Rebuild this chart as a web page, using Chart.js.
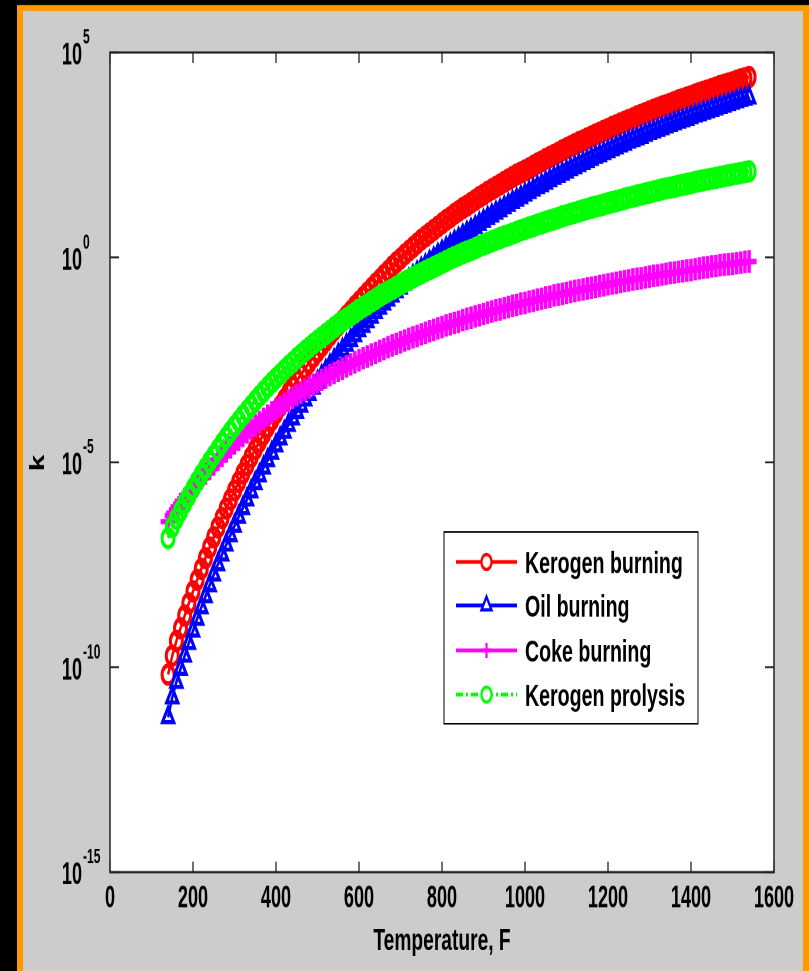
<!DOCTYPE html>
<html>
<head>
<meta charset="utf-8">
<script src="https://cdn.jsdelivr.net/npm/chart.js@4.4.1/dist/chart.umd.min.js"></script>
<style>
  html { margin: 0; padding: 0; background: #000; overflow: hidden; height: 971px; }
  body { margin: 0; padding: 0; background: #000; height: 971px; }
  #wrap { position: absolute; left: 0; top: 0; width: 809px; height: 648px; transform: scaleY(1.4985); transform-origin: 0 0; }
</style>
</head>
<body>
<div id="wrap"><canvas id="myChart" width="809" height="648"></canvas></div>
<script>
// temperature, F
const temps = [140, 150, 160, 170, 180, 190, 200, 210, 220, 230,
    240, 250, 260, 270, 280, 290, 300, 310, 320, 330,
    340, 350, 360, 370, 380, 390, 400, 410, 420, 430,
    440, 450, 460, 470, 480, 490, 500, 510, 520, 530,
    540, 550, 560, 570, 580, 590, 600, 610, 620, 630,
    640, 650, 660, 670, 680, 690, 700, 710, 720, 730,
    740, 750, 760, 770, 780, 790, 800, 810, 820, 830,
    840, 850, 860, 870, 880, 890, 900, 910, 920, 930,
    940, 950, 960, 970, 980, 990, 1000, 1010, 1020, 1030,
    1040, 1050, 1060, 1070, 1080, 1090, 1100, 1110, 1120, 1130,
    1140, 1150, 1160, 1170, 1180, 1190, 1200, 1210, 1220, 1230,
    1240, 1250, 1260, 1270, 1280, 1290, 1300, 1310, 1320, 1330,
    1340, 1350, 1360, 1370, 1380, 1390, 1400, 1410, 1420, 1430,
    1440, 1450, 1460, 1470, 1480, 1490, 1500, 1510, 1520, 1530,
    1540];

// log10(k)
const keroBurnLog = [-10.18, -9.72, -9.36, -9.05, -8.74, -8.44, -8.15, -7.87, -7.60, -7.34,
    -7.08, -6.83, -6.59, -6.36, -6.13, -5.91, -5.69, -5.48, -5.27, -5.07,
    -4.87, -4.68, -4.50, -4.32, -4.14, -3.97, -3.80, -3.63, -3.47, -3.31,
    -3.16, -3.01, -2.86, -2.71, -2.57, -2.43, -2.30, -2.17, -2.04, -1.91,
    -1.78, -1.66, -1.54, -1.42, -1.31, -1.19, -1.08, -0.97, -0.86, -0.75,
    -0.64, -0.54, -0.43, -0.33, -0.22, -0.12, -0.03, 0.07, 0.16, 0.25,
    0.34, 0.43, 0.51, 0.59, 0.67, 0.75, 0.83, 0.91, 0.98, 1.06,
    1.13, 1.20, 1.26, 1.33, 1.40, 1.47, 1.53, 1.60, 1.66, 1.72,
    1.78, 1.84, 1.90, 1.96, 2.02, 2.07, 2.12, 2.17, 2.23, 2.29,
    2.34, 2.40, 2.45, 2.50, 2.55, 2.61, 2.66, 2.71, 2.76, 2.81,
    2.85, 2.90, 2.95, 3.00, 3.04, 3.09, 3.13, 3.18, 3.22, 3.27,
    3.31, 3.35, 3.39, 3.44, 3.48, 3.52, 3.56, 3.60, 3.64, 3.68,
    3.71, 3.75, 3.79, 3.83, 3.86, 3.90, 3.93, 3.97, 4.01, 4.04,
    4.07, 4.11, 4.14, 4.18, 4.21, 4.24, 4.27, 4.31, 4.34, 4.37,
    4.40];
const oilBurnLog = [-11.22, -10.74, -10.36, -10.04, -9.72, -9.41, -9.11, -8.82, -8.54, -8.27,
    -8.00, -7.74, -7.49, -7.25, -7.01, -6.78, -6.55, -6.33, -6.12, -5.91,
    -5.71, -5.51, -5.32, -5.13, -4.95, -4.77, -4.59, -4.42, -4.26, -4.09,
    -3.93, -3.77, -3.62, -3.47, -3.33, -3.18, -3.04, -2.90, -2.77, -2.64,
    -2.51, -2.38, -2.26, -2.14, -2.02, -1.90, -1.78, -1.67, -1.56, -1.45,
    -1.34, -1.23, -1.13, -1.03, -0.93, -0.83, -0.74, -0.64, -0.55, -0.46,
    -0.37, -0.28, -0.20, -0.11, -0.03, 0.06, 0.14, 0.22, 0.30, 0.38,
    0.45, 0.53, 0.60, 0.67, 0.74, 0.82, 0.89, 0.96, 1.02, 1.09,
    1.15, 1.22, 1.28, 1.35, 1.41, 1.47, 1.53, 1.59, 1.65, 1.71,
    1.76, 1.82, 1.88, 1.94, 1.99, 2.04, 2.09, 2.15, 2.20, 2.25,
    2.30, 2.35, 2.40, 2.45, 2.49, 2.54, 2.59, 2.64, 2.68, 2.73,
    2.77, 2.82, 2.86, 2.90, 2.94, 2.99, 3.03, 3.07, 3.11, 3.15,
    3.19, 3.23, 3.27, 3.31, 3.34, 3.38, 3.42, 3.46, 3.49, 3.53,
    3.56, 3.60, 3.63, 3.67, 3.70, 3.74, 3.77, 3.81, 3.84, 3.87,
    3.90];
const cokeBurnLog = [-6.45, -6.30, -6.16, -6.02, -5.89, -5.76, -5.63, -5.51, -5.39, -5.27,
    -5.16, -5.05, -4.94, -4.84, -4.74, -4.64, -4.54, -4.45, -4.36, -4.27,
    -4.18, -4.10, -4.02, -3.94, -3.86, -3.78, -3.71, -3.64, -3.57, -3.50,
    -3.43, -3.36, -3.30, -3.23, -3.17, -3.11, -3.05, -2.99, -2.93, -2.87,
    -2.82, -2.77, -2.72, -2.66, -2.61, -2.56, -2.51, -2.46, -2.42, -2.37,
    -2.33, -2.28, -2.24, -2.19, -2.15, -2.11, -2.07, -2.03, -1.99, -1.95,
    -1.92, -1.88, -1.84, -1.80, -1.77, -1.73, -1.70, -1.66, -1.63, -1.60,
    -1.57, -1.53, -1.50, -1.47, -1.44, -1.41, -1.38, -1.35, -1.32, -1.29,
    -1.27, -1.24, -1.21, -1.18, -1.16, -1.13, -1.11, -1.08, -1.06, -1.03,
    -1.01, -0.98, -0.96, -0.93, -0.91, -0.89, -0.87, -0.84, -0.82, -0.80,
    -0.78, -0.76, -0.74, -0.72, -0.70, -0.68, -0.66, -0.64, -0.62, -0.60,
    -0.58, -0.56, -0.54, -0.52, -0.51, -0.49, -0.47, -0.45, -0.44, -0.42,
    -0.40, -0.38, -0.37, -0.35, -0.34, -0.32, -0.31, -0.29, -0.27, -0.25,
    -0.24, -0.22, -0.21, -0.19, -0.18, -0.17, -0.16, -0.14, -0.13, -0.11,
    -0.10];
const keroPyroLog = [-6.85, -6.58, -6.38, -6.19, -6.00, -5.82, -5.64, -5.47, -5.30, -5.14,
    -4.98, -4.83, -4.68, -4.53, -4.39, -4.25, -4.12, -3.99, -3.86, -3.74,
    -3.62, -3.50, -3.38, -3.27, -3.16, -3.05, -2.95, -2.85, -2.75, -2.65,
    -2.56, -2.46, -2.37, -2.28, -2.20, -2.11, -2.03, -1.95, -1.87, -1.79,
    -1.71, -1.63, -1.56, -1.49, -1.42, -1.35, -1.28, -1.21, -1.15, -1.08,
    -1.02, -0.95, -0.89, -0.83, -0.78, -0.72, -0.66, -0.60, -0.55, -0.49,
    -0.44, -0.39, -0.34, -0.29, -0.24, -0.19, -0.14, -0.09, -0.04, 0.01,
    0.05, 0.10, 0.14, 0.18, 0.22, 0.27, 0.31, 0.35, 0.39, 0.43,
    0.47, 0.51, 0.54, 0.58, 0.62, 0.66, 0.69, 0.73, 0.76, 0.80,
    0.83, 0.87, 0.90, 0.93, 0.96, 1.00, 1.03, 1.06, 1.09, 1.12,
    1.15, 1.18, 1.21, 1.24, 1.26, 1.29, 1.32, 1.35, 1.37, 1.40,
    1.43, 1.46, 1.48, 1.51, 1.53, 1.56, 1.58, 1.61, 1.63, 1.66,
    1.68, 1.70, 1.72, 1.75, 1.77, 1.79, 1.81, 1.84, 1.86, 1.88,
    1.90, 1.92, 1.94, 1.96, 1.98, 2.00, 2.02, 2.04, 2.06, 2.08,
    2.10];

const seriesNames = ['Kerogen burning', 'Oil burning', 'Coke burning', 'Kerogen prolysis'];
const xTicks = [0, 200, 400, 600, 800, 1000, 1200, 1400, 1600];
const yTickExp = [5, 0, -5, -10, -15];

const FONT = '"Liberation Sans", Arial, sans-serif';

function toPoints(logs) {
    return temps.map((t, i) => ({ x: t, y: Math.pow(10, logs[i]) }));
}

function txt(ctx, s, x, y, size, align, hs) {
    ctx.save();
    ctx.translate(x, y);
    ctx.scale(hs, 1);
    ctx.font = 'bold ' + size + 'px ' + FONT;
    ctx.textAlign = align;
    ctx.textBaseline = 'alphabetic';
    ctx.fillStyle = '#000';
    ctx.fillText(s, 0, 0);
    ctx.restore();
}

function marker(ctx, style, x, y, r, color) {
    ctx.save();
    ctx.strokeStyle = color;
    ctx.fillStyle = '#fff';
    ctx.lineWidth = 2.2;
    ctx.setLineDash([]);
    ctx.beginPath();
    if (style === 'circle') {
        ctx.arc(x, y, r, 0, Math.PI * 2);
        ctx.fill();
        ctx.stroke();
    } else if (style === 'triangle') {
        ctx.moveTo(x, y - r * 1.15);
        ctx.lineTo(x + r, y + r * 0.6);
        ctx.lineTo(x - r, y + r * 0.6);
        ctx.closePath();
        ctx.fill();
        ctx.stroke();
    } else {
        ctx.moveTo(x - r, y); ctx.lineTo(x + r, y);
        ctx.moveTo(x, y - r); ctx.lineTo(x, y + r);
        ctx.stroke();
    }
    ctx.restore();
}

const matlabFrame = {
    id: 'matlabFrame',
    beforeDraw(chart) {
        const ctx = chart.ctx;
        const a = chart.chartArea;
        ctx.save();
        ctx.fillStyle = '#000';
        ctx.fillRect(0, 0, chart.width, chart.height);
        ctx.fillStyle = '#ff9900';
        ctx.fillRect(17, 3.4, 792, chart.height);
        ctx.fillStyle = '#cccccc';
        ctx.fillRect(23, 7.4, 780, chart.height);
        ctx.fillStyle = '#ffffff';
        ctx.fillRect(a.left, a.top, a.right - a.left, a.bottom - a.top);
        ctx.restore();
    },
    afterDraw(chart) {
        const ctx = chart.ctx;
        const a = chart.chartArea;
        const xs = chart.scales.x;
        const ys = chart.scales.y;
        ctx.save();
        // ticks on all four sides
        ctx.strokeStyle = '#222';
        ctx.lineWidth = 1.3;
        ctx.beginPath();
        xTicks.forEach(v => {
            const px = xs.getPixelForValue(v);
            ctx.moveTo(px, a.bottom); ctx.lineTo(px, a.bottom - 7);
            ctx.moveTo(px, a.top); ctx.lineTo(px, a.top + 7);
        });
        yTickExp.forEach(e => {
            const py = ys.getPixelForValue(Math.pow(10, e));
            ctx.moveTo(a.left, py); ctx.lineTo(a.left + 9, py);
            ctx.moveTo(a.right, py); ctx.lineTo(a.right - 9, py);
        });
        ctx.stroke();
        ctx.lineWidth = 1.5;
        ctx.strokeRect(a.left, a.top, a.right - a.left, a.bottom - a.top);

        // tick labels
        xTicks.forEach(v => {
            txt(ctx, String(v), xs.getPixelForValue(v), 605.5, 21, 'center', 0.86);
        });
        yTickExp.forEach(e => {
            const py = ys.getPixelForValue(Math.pow(10, e));
            txt(ctx, '10', 82, py + 8, 21, 'right', 0.86);
            txt(ctx, String(e), 83, py - 6, 14, 'left', 0.86);
        });

        // axis titles
        txt(ctx, 'Temperature, F', (a.left + a.right) / 2, 634, 20, 'center', 0.96);
        ctx.save();
        ctx.translate(44, 309);
        ctx.rotate(-Math.PI / 2);
        txt(ctx, 'k', 0, 0, 20, 'center', 1);
        ctx.restore();

        // legend
        const lx = 444, ly = 355, lw = 254, lh = 128;
        ctx.fillStyle = '#fff';
        ctx.fillRect(lx, ly, lw, lh);
        ctx.strokeStyle = '#000';
        ctx.lineWidth = 1;
        ctx.strokeRect(lx, ly, lw, lh);
        const rows = [375, 404, 434, 463.5];
        chart.data.datasets.forEach((ds, i) => {
            const y = rows[i];
            ctx.save();
            ctx.strokeStyle = ds.borderColor;
            ctx.lineWidth = 2.4;
            ctx.setLineDash(ds.borderDash || []);
            ctx.beginPath();
            ctx.moveTo(456, y); ctx.lineTo(517, y);
            ctx.stroke();
            ctx.restore();
            marker(ctx, ds.pointStyle, 486.5, y, 5, ds.borderColor);
            txt(ctx, ds.label, 525, y + 7.5, 20, 'left', 0.98);
        });
        ctx.restore();
    }
};

const ctx = document.getElementById('myChart').getContext('2d');
const chart = new Chart(ctx, {
    type: 'line',
    data: {
        datasets: [{
            label: seriesNames[0],
            data: toPoints(keroBurnLog),
            borderColor: '#ff0000',
            pointStyle: 'circle',
            pointRadius: 6,
            pointBorderWidth: 3,
            order: 4
        }, {
            label: seriesNames[1],
            data: toPoints(oilBurnLog),
            borderColor: '#0000ff',
            pointStyle: 'triangle',
            pointRadius: 6.5,
            pointBorderWidth: 2.8,
            order: 3
        }, {
            label: seriesNames[2],
            data: toPoints(cokeBurnLog),
            borderColor: '#ff00ff',
            pointStyle: 'cross',
            pointRadius: 7.5,
            pointBorderWidth: 3.5,
            order: 2
        }, {
            label: seriesNames[3],
            data: toPoints(keroPyroLog),
            borderColor: '#00ff00',
            borderDash: [7, 3, 2, 3],
            pointStyle: 'circle',
            pointRadius: 6,
            pointBorderWidth: 3,
            order: 1
        }].map(d => Object.assign({
            borderWidth: 2.4,
            pointBorderColor: d.borderColor,
            pointBackgroundColor: 'rgba(255,255,255,0)',
            backgroundColor: d.borderColor,
            fill: false,
            tension: 0
        }, d))
    },
    options: {
        responsive: false,
        animation: false,
        devicePixelRatio: 2,
        layout: {
            padding: { top: 35, right: 35, bottom: 0, left: 0 }
        },
        plugins: {
            legend: { display: false },
            tooltip: { enabled: false }
        },
        scales: {
            x: {
                type: 'linear',
                min: 0,
                max: 1600,
                ticks: { display: false },
                grid: { display: false },
                border: { display: false },
                afterFit: s => { s.height = 66; }
            },
            y: {
                type: 'logarithmic',
                min: 1e-15,
                max: 1e5,
                ticks: { display: false },
                grid: { display: false },
                border: { display: false },
                afterFit: s => { s.width = 110; }
            }
        }
    },
    plugins: [matlabFrame]
});
</script>
</body>
</html>
